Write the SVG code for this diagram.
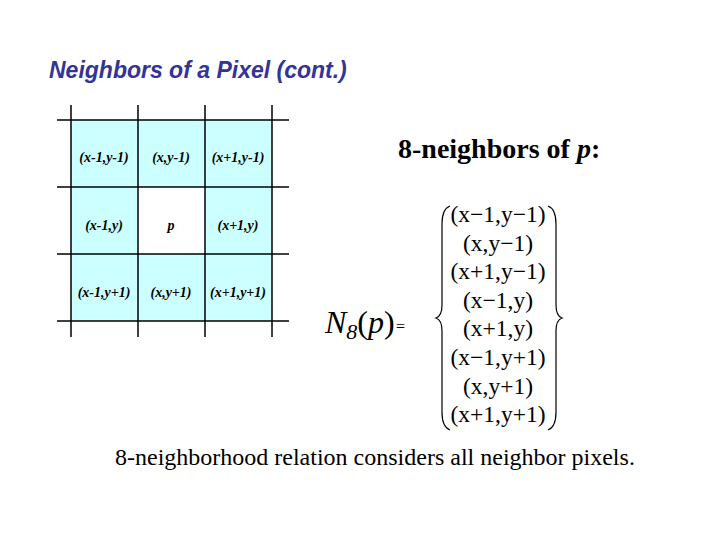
<svg xmlns="http://www.w3.org/2000/svg" width="720" height="540" viewBox="0 0 720 540">
  <style>
    .title { font-family: "Liberation Sans", Arial, sans-serif; font-weight: bold; font-style: italic; font-size: 23px; fill: #333399; }
    .cell { fill: #CCFFFF; stroke: none; }
    .center { fill: #FFFFFF; stroke: none; }
    .grid { stroke: #000000; stroke-width: 1.5; fill: none; }
    .ct { font-family: "Liberation Serif", "Times New Roman", serif; font-weight: bold; font-style: italic; font-size: 14px; fill: #000; text-anchor: middle; }
    .head { font-family: "Liberation Serif", "Times New Roman", serif; font-weight: bold; font-size: 28px; fill: #000; }
    .lst { font-family: "Liberation Serif", "Times New Roman", serif; font-size: 23.5px; fill: #000; text-anchor: middle; }
    .brace { fill: none; stroke: #000; stroke-width: 1.2; }
    .foot { font-family: "Liberation Serif", "Times New Roman", serif; font-size: 24px; fill: #000; }
  </style>
  <rect width="720" height="540" fill="#FFFFFF"/>
  <text class="title" x="49" y="78">Neighbors of a Pixel (cont.)</text>

  <g id="grid-cells">
    <g id="c-x-1-y-1"><rect class="cell" x="71" y="120" width="67" height="67"/><text class="ct" x="104" y="162">(x-1,y-1)</text></g>
    <g id="c-x-y-1"><rect class="cell" x="138" y="120" width="67" height="67"/><text class="ct" x="171" y="162">(x,y-1)</text></g>
    <g id="c-x1-y-1"><rect class="cell" x="205" y="120" width="67" height="67"/><text class="ct" x="238" y="162">(x+1,y-1)</text></g>
    <g id="c-x-1-y"><rect class="cell" x="71" y="187" width="67" height="67"/><text class="ct" x="104" y="230">(x-1,y)</text></g>
    <g id="c-p"><rect class="center" x="138" y="187" width="67" height="67"/><text class="ct" x="171" y="230">p</text></g>
    <g id="c-x1-y"><rect class="cell" x="205" y="187" width="67" height="67"/><text class="ct" x="238" y="230">(x+1,y)</text></g>
    <g id="c-x-1-y1"><rect class="cell" x="71" y="254" width="67" height="67"/><text class="ct" x="104" y="297">(x-1,y+1)</text></g>
    <g id="c-x-y1"><rect class="cell" x="138" y="254" width="67" height="67"/><text class="ct" x="171" y="297">(x,y+1)</text></g>
    <g id="c-x1-y1"><rect class="cell" x="205" y="254" width="67" height="67"/><text class="ct" x="238" y="297">(x+1,y+1)</text></g>
  </g>

  <g id="grid-lines" class="grid">
    <line x1="71" y1="105" x2="71" y2="337"/>
    <line x1="138" y1="105" x2="138" y2="337"/>
    <line x1="205" y1="105" x2="205" y2="337"/>
    <line x1="272" y1="105" x2="272" y2="337"/>
    <line x1="57" y1="120" x2="289" y2="120"/>
    <line x1="57" y1="187" x2="289" y2="187"/>
    <line x1="57" y1="254" x2="289" y2="254"/>
    <line x1="57" y1="321" x2="289" y2="321"/>
  </g>

  <text class="head" x="398" y="158">8-neighbors of <tspan font-style="italic">p</tspan>:</text>

  <g id="n8">
    <text font-family="'Liberation Serif', 'Times New Roman', serif" font-style="italic" font-size="32" x="325" y="333">N<tspan font-size="22" dy="6">8</tspan><tspan dy="-6" font-style="normal">(</tspan>p<tspan font-style="normal">)</tspan></text>
    <text font-family="'Liberation Serif', 'Times New Roman', serif" font-size="16" x="396" y="332">=</text>
  </g>

  <g id="set">
    <path class="brace" d="M450 206 Q442 209 442 224 L442 305 Q442 316 436 318 Q442 320 442 331 L442 412 Q442 427 450 430"/>
    <path class="brace" d="M548 206 Q556 209 556 224 L556 305 Q556 316 562 318 Q556 320 556 331 L556 412 Q556 427 548 430"/>
    <text class="lst" x="498" y="222">(x−1,y−1)</text>
    <text class="lst" x="498" y="251">(x,y−1)</text>
    <text class="lst" x="498" y="279">(x+1,y−1)</text>
    <text class="lst" x="498" y="308">(x−1,y)</text>
    <text class="lst" x="498" y="336">(x+1,y)</text>
    <text class="lst" x="498" y="365">(x−1,y+1)</text>
    <text class="lst" x="498" y="394">(x,y+1)</text>
    <text class="lst" x="498" y="422">(x+1,y+1)</text>
  </g>

  <text class="foot" x="115" y="465">8-neighborhood relation considers all neighbor pixels.</text>
</svg>
